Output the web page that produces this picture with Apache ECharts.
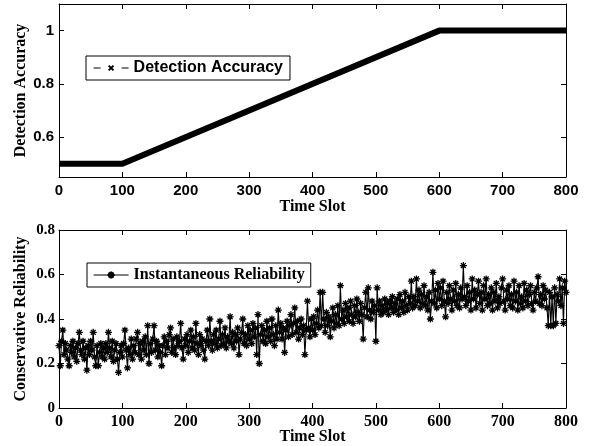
<!DOCTYPE html>
<html>
<head>
<meta charset="UTF-8">
<script src="https://cdn.jsdelivr.net/npm/echarts@6/dist/echarts.min.js"></script>
<style>html,body,#container{width:100%;height:100%;margin:0;padding:0;background:#fff;}</style>
</head>
<body>
<div id="container"></div>
<script>
// top panel: detection accuracy (corner points of the curve)
var accSlots = [0, 100, 600, 800];
var accValues = [0.5, 0.5, 1, 1];

// bottom panel: instantaneous reliability, one value every 2 slots (0..800)
var relStep = 2;
var relValues = [
  0.28,0.19,0.30,0.35,0.24,0.29,0.26,0.22,0.19,0.28,0.25,0.30,0.23,0.27,0.21,0.29,0.34,0.26,0.24,0.30,
  0.22,0.27,0.17,0.28,0.24,0.30,0.26,0.34,0.23,0.19,0.28,0.19,0.25,0.29,0.23,0.27,0.22,0.29,0.25,0.34,
  0.27,0.23,0.30,0.21,0.26,0.29,0.22,0.16,0.25,0.28,0.23,0.29,0.35,0.26,0.18,0.27,0.24,0.31,0.22,0.28,
  0.25,0.31,0.34,0.24,0.29,0.22,0.30,0.26,0.32,0.24,0.37,0.20,0.29,0.25,0.31,0.37,0.26,0.30,0.23,0.28,
  0.25,0.19,0.28,0.32,0.24,0.30,0.27,0.33,0.36,0.25,0.31,0.27,0.24,0.32,0.28,0.30,0.38,0.27,0.22,0.31,
  0.28,0.33,0.25,0.30,0.35,0.27,0.32,0.26,0.38,0.29,0.24,0.33,0.28,0.31,0.26,0.22,0.30,0.35,0.28,0.40,
  0.30,0.26,0.33,0.29,0.35,0.27,0.31,0.39,0.28,0.33,0.29,0.36,0.27,0.32,0.30,0.41,0.29,0.34,0.27,0.33,
  0.30,0.36,0.24,0.31,0.34,0.40,0.29,0.33,0.28,0.37,0.31,0.35,0.29,0.38,0.32,0.36,0.24,0.42,0.20,0.33,
  0.37,0.30,0.35,0.29,0.39,0.32,0.36,0.30,0.40,0.33,0.28,0.37,0.31,0.44,0.34,0.38,0.31,0.36,0.25,0.35,
  0.39,0.32,0.37,0.42,0.33,0.38,0.45,0.34,0.39,0.31,0.36,0.40,0.33,0.37,0.24,0.35,0.48,0.36,0.32,0.40,
  0.35,0.41,0.33,0.38,0.44,0.36,0.52,0.37,0.52,0.40,0.34,0.43,0.37,0.41,0.32,0.39,0.45,0.36,0.42,0.38,
  0.46,0.37,0.55,0.40,0.44,0.38,0.47,0.41,0.45,0.39,0.48,0.42,0.38,0.46,0.41,0.49,0.43,0.39,0.47,0.42,
  0.31,0.45,0.52,0.41,0.54,0.44,0.40,0.48,0.43,0.46,0.30,0.54,0.44,0.48,0.42,0.46,0.43,0.49,0.44,0.47,
  0.42,0.48,0.45,0.50,0.43,0.47,0.44,0.49,0.42,0.51,0.45,0.48,0.43,0.52,0.46,0.44,0.50,0.47,0.57,0.45,
  0.50,0.46,0.58,0.48,0.53,0.45,0.51,0.47,0.55,0.46,0.50,0.44,0.52,0.40,0.48,0.61,0.47,0.53,0.45,0.56,
  0.49,0.54,0.46,0.57,0.48,0.41,0.52,0.47,0.55,0.49,0.44,0.53,0.48,0.56,0.46,0.51,0.45,0.54,0.49,0.64,
  0.50,0.46,0.55,0.48,0.52,0.44,0.58,0.49,0.53,0.45,0.51,0.57,0.47,0.52,0.44,0.55,0.49,0.58,0.46,0.51,
  0.47,0.54,0.44,0.52,0.48,0.56,0.45,0.50,0.47,0.54,0.58,0.48,0.44,0.53,0.49,0.55,0.46,0.51,0.45,0.57,
  0.48,0.52,0.44,0.55,0.47,0.50,0.45,0.56,0.48,0.53,0.46,0.51,0.55,0.47,0.44,0.52,0.48,0.54,0.59,0.47,
  0.51,0.46,0.55,0.49,0.53,0.45,0.37,0.52,0.37,0.50,0.37,0.54,0.38,0.51,0.48,0.58,0.46,0.54,0.38,0.57,
  0.52
];

var topYTicks = [0.6, 0.8, 1];

var sans = 'Liberation Sans';
var serif = 'Liberation Serif';

var accData = accSlots.map(function (s, i) { return [s, accValues[i]]; });
var relData = relValues.map(function (v, i) { return [i * relStep, v]; });

function xAx(grid, pos, labelFont, showName) {
  return {
    gridIndex: grid, type: 'value', min: 0, max: 800, interval: 100, position: pos,
    name: showName ? 'Time Slot' : '', nameLocation: 'middle', nameGap: grid === 0 ? 22 : 21,
    nameMoveOverlap: false,
    nameTextStyle: {fontFamily: serif, fontWeight: 'bold', fontSize: 16, color: '#000'},
    axisLine: {onZero: false, lineStyle: {color: '#000', width: 1}},
    axisTick: {inside: true, length: 5, lineStyle: {color: '#000'}},
    axisLabel: {show: pos === 'bottom', fontFamily: labelFont, fontWeight: 'bold', fontSize: labelFont === sans ? 15 : 16, color: '#000', margin: 6},
    splitLine: {show: false}
  };
}

var myChart = echarts.init(document.getElementById('container'));
myChart.setOption({
  animation: false,
  backgroundColor: '#fff',
  grid: [
    {left: 59, right: 24, top: 4, height: 173},
    {left: 59, right: 24, top: 230, height: 179}
  ],
  legend: [
    {
      left: 86, top: 56, orient: 'horizontal', selectedMode: false,
      borderColor: '#000', borderWidth: 1, padding: [4, 7],
      itemWidth: 35, itemHeight: 6, itemGap: 5,
      textStyle: {fontFamily: sans, fontWeight: 'bold', fontSize: 16, color: '#000'},
      data: [{name: 'Detection Accuracy', lineStyle: {type: [7, 21], width: 1.2}}]
    },
    {
      left: 87, top: 263, orient: 'horizontal', selectedMode: false,
      borderColor: '#000', borderWidth: 1, padding: [4, 6],
      itemWidth: 35, itemHeight: 9, itemGap: 5,
      textStyle: {fontFamily: serif, fontWeight: 'bold', fontSize: 16, color: '#000'},
      data: [{name: 'Instantaneous Reliability', lineStyle: {width: 1.2}}]
    }
  ],
  xAxis: [
    xAx(0, 'bottom', sans, true),
    xAx(0, 'top', sans, false),
    xAx(1, 'bottom', serif, true),
    xAx(1, 'top', serif, false)
  ],
  yAxis: [
    {
      gridIndex: 0, type: 'value', min: 0.45, max: 1.1, position: 'left',
      name: 'Detection Accuracy', nameLocation: 'middle', nameGap: 30, nameMoveOverlap: false,
      nameTextStyle: {fontFamily: serif, fontWeight: 'bold', fontSize: 16, color: '#000'},
      axisLine: {onZero: false, lineStyle: {color: '#000'}},
      axisTick: {inside: true, length: 5, customValues: topYTicks, lineStyle: {color: '#000'}},
      axisLabel: {customValues: topYTicks, fontFamily: sans, fontWeight: 'bold', fontSize: 15, color: '#000', margin: 5},
      splitLine: {show: false}
    },
    {
      gridIndex: 0, type: 'value', min: 0.45, max: 1.1, position: 'right',
      axisLine: {onZero: false, lineStyle: {color: '#000'}},
      axisTick: {inside: true, length: 5, customValues: topYTicks, lineStyle: {color: '#000'}},
      axisLabel: {show: false},
      splitLine: {show: false}
    },
    {
      gridIndex: 1, type: 'value', min: 0, max: 0.8, interval: 0.2, position: 'left',
      name: 'Conservative Reliability', nameLocation: 'middle', nameGap: 30, nameMoveOverlap: false,
      nameTextStyle: {fontFamily: serif, fontWeight: 'bold', fontSize: 16, color: '#000'},
      axisLine: {onZero: false, lineStyle: {color: '#000'}},
      axisTick: {inside: true, length: 5, lineStyle: {color: '#000'}},
      axisLabel: {fontFamily: serif, fontWeight: 'bold', fontSize: 15, color: '#000', margin: 4},
      splitLine: {show: false}
    },
    {
      gridIndex: 1, type: 'value', min: 0, max: 0.8, interval: 0.2, position: 'right',
      axisLine: {onZero: false, lineStyle: {color: '#000'}},
      axisTick: {inside: true, length: 5, lineStyle: {color: '#000'}},
      axisLabel: {show: false},
      splitLine: {show: false}
    }
  ],
  series: [
    {
      name: 'Detection Accuracy', type: 'line', xAxisIndex: 0, yAxisIndex: 0,
      data: accData,
      symbol: 'path://M0,0L10,10M10,0L0,10', symbolSize: 5, showSymbol: false,
      itemStyle: {color: '#000', borderColor: '#000', borderWidth: 1.2},
      lineStyle: {color: '#000', width: 6}
    },
    {
      name: 'Instantaneous Reliability', type: 'line', xAxisIndex: 2, yAxisIndex: 2,
      data: relData,
      symbol: 'path://M5,0L5,10M0,5L10,5M1.5,1.5L8.5,8.5M8.5,1.5L1.5,8.5', symbolSize: 7,
      itemStyle: {color: '#000', borderColor: '#000', borderWidth: 1.3},
      lineStyle: {color: '#000', width: 1.1}
    }
  ]
});

window.onresize = function () {
  myChart.resize();
};
</script>
</body>
</html>
